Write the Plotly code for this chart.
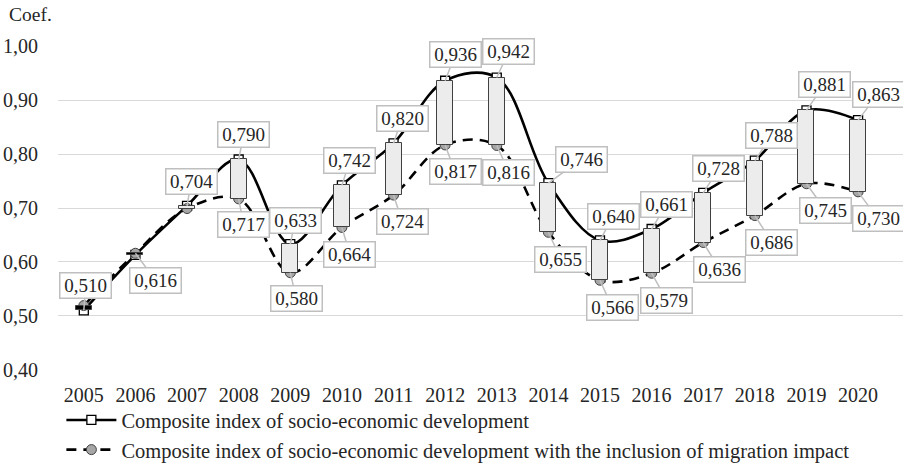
import plotly.graph_objects as go

years = ["2005", "2006", "2007", "2008", "2009", "2010", "2011", "2012",
         "2013", "2014", "2015", "2016", "2017", "2018", "2019", "2020"]
composite = [0.510, 0.613, 0.704, 0.790, 0.633, 0.742, 0.820, 0.936,
             0.942, 0.746, 0.640, 0.661, 0.728, 0.788, 0.881, 0.863]
composite_migration = [0.519, 0.616, 0.699, 0.717, 0.580, 0.664, 0.724, 0.817,
                       0.816, 0.655, 0.566, 0.579, 0.636, 0.686, 0.745, 0.730]
# which points carry a value label (Excel hides some overlapping ones)
show_top = [True, False, True, True, True, True, True, True,
            True, True, True, True, True, True, True, True]
show_bottom = [False, True, False, True, True, True, True, True,
               True, True, True, True, True, True, True, True]

name1 = "Composite index of socio-economic development"
name2 = "Composite index of socio-economic development with the inclusion of migration impact"

# label callout offsets in pixels (layout only)
top_dx = [2, 0, 4, 5, 5, 8, 8.5, 10, 12, 33, 13, 15, 15.5, 17, 18, 20]
top_dy = [-25, 0, -24, -25, -24, -25, -25, -26, -26, -24, -24, -25, -24, -25.5, -26, -26]
bot_dx = [0, 20, 0, 5, 6, 8, 8.5, 10, 12, 12.5, 12.5, 15, 16.5, 17, 19, 20]
bot_dy = [0, 27, 0, 26, 26, 26.6, 26, 27, 26.6, 27, 27.6, 27, 27, 26.5, 26.5, 27]

FONT = "Liberation Serif"
TXT = "#262626"

fig = go.Figure()

fig.add_trace(go.Scatter(
    x=years, y=composite, name=name1, mode="lines+markers",
    line=dict(color="black", width=2.6, shape="spline", smoothing=1.0),
    marker=dict(symbol="square", size=9, color="white",
                line=dict(color="black", width=1.3)),
    xaxis="x", yaxis="y"))

fig.add_trace(go.Scatter(
    x=years, y=composite_migration, name=name2, mode="lines+markers",
    line=dict(color="black", width=2.6, shape="spline", smoothing=1.0, dash="10px,7px"),
    marker=dict(symbol="circle", size=10, color="#a6a6a6",
                line=dict(color="#404040", width=1)),
    xaxis="x", yaxis="y"))

diff = [a - b for a, b in zip(composite, composite_migration)]
bar_colors = ["#ececec" if d >= 0 else "black" for d in diff]
fig.add_trace(go.Bar(
    x=years, y=diff, base=composite_migration, width=0.31,
    marker=dict(color=bar_colors, line=dict(color="#404040", width=1)),
    showlegend=False, hoverinfo="skip", xaxis="x2", yaxis="y2"))


def fmt(v):
    return f"{v:.3f}".replace(".", ",")


annotations = []
for i, yr in enumerate(years):
    for show, vals, dxs, dys in ((show_top[i], composite, top_dx, top_dy),
                                 (show_bottom[i], composite_migration, bot_dx, bot_dy)):
        if not show:
            continue
        annotations.append(dict(
            x=i, y=vals[i], xref="x", yref="y", text=fmt(vals[i]),
            showarrow=True, arrowhead=0, arrowwidth=1.5, arrowcolor="#bfbfbf",
            standoff=0, ax=dxs[i], ay=dys[i],
            bgcolor="white", bordercolor="#bfbfbf", borderwidth=1.5, borderpad=1,
            width=48, height=22, font=dict(family=FONT, size=19, color=TXT)))

annotations.append(dict(
    x=-0.0604, y=1.0957, xref="paper", yref="paper", text="Coef.",
    showarrow=False, xanchor="left", yanchor="middle",
    font=dict(family=FONT, size=19.5, color=TXT)))

xr = [-0.5, 15.87]
yr_ = [0.3995, 1.0005]
fig.update_layout(
    width=903, height=463, autosize=False,
    margin=dict(l=58, r=0, t=46, b=93, autoexpand=False),
    paper_bgcolor="white", plot_bgcolor="white",
    separators=", ",
    font=dict(family=FONT, size=20, color=TXT),
    showlegend=True,
    legend=dict(orientation="v", x=0.004, xanchor="left", y=-0.093, yanchor="top",
                font=dict(family=FONT, size=20.5, color=TXT),
                bgcolor="rgba(0,0,0,0)", tracegroupgap=0, itemwidth=50),
    xaxis=dict(type="category", range=xr, showgrid=False, zeroline=False,
               showline=False, ticks="", ticklabelstandoff=11, automargin=False,
               tickfont=dict(family=FONT, size=20, color=TXT)),
    yaxis=dict(range=yr_, dtick=0.1, tick0=0.4, tickformat=".2f",
               showgrid=True, gridcolor="#d9d9d9", gridwidth=1.3, automargin=False,
               zeroline=False, showline=False, ticks="", ticklabelstandoff=19,
               tickfont=dict(family=FONT, size=20, color=TXT)),
    xaxis2=dict(type="category", range=xr, overlaying="x", anchor="y2",
                visible=False, categoryarray=years, categoryorder="array"),
    yaxis2=dict(range=yr_, overlaying="y", anchor="x2", visible=False),
    annotations=annotations,
    bargap=0,
)

fig.write_html("out.html", config={"displayModeBar": False},
               post_script="document.body.style.margin='0';")
